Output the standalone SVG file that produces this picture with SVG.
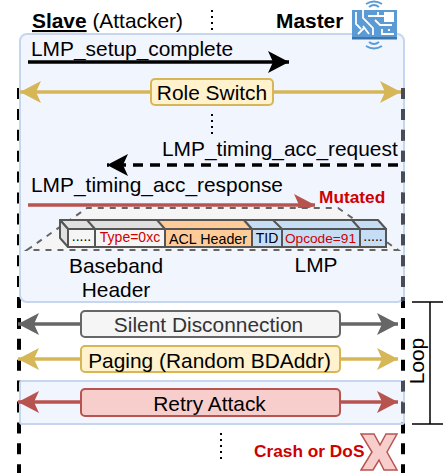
<svg xmlns="http://www.w3.org/2000/svg" width="443" height="473" viewBox="0 0 443 473">
<style>
text{font-family:"Liberation Sans",Arial,sans-serif;fill:#000}
.t18{font-size:20.900px}.mid{text-anchor:middle}
.panel{fill:#dae8fc;fill-opacity:.38;stroke:#c6d6ee;stroke-width:2}
.life{fill:none;stroke:#000;stroke-width:4;stroke-dasharray:11 9.900}
.lifeg{fill:none;stroke:#474c58;stroke-width:4;stroke-dasharray:11 9.900}
.dots{fill:none;stroke:#000;stroke-width:2;stroke-dasharray:2 4}
.arrow{fill:none;stroke-width:3.500}
.box{stroke-width:2}
.cell{stroke:#555;stroke-width:2}
.top{stroke:#555;stroke-width:2;stroke-linejoin:round}
.dash{fill:none;stroke:#666;stroke-width:2;stroke-dasharray:6 6}
.red{fill:#d00000}
.c{font-size:14px}
.rc{font-size:14px;fill:#d00000}
.w{fill:none;stroke:#fff;stroke-width:1.800}
.arc{fill:none;stroke:#5a9bd5;stroke-width:2}
</style>
<defs>
<marker id="hK" markerUnits="userSpaceOnUse" markerWidth="22" markerHeight="22" refX="21" refY="11" orient="auto-start-reverse"><path d="M0 0L21 11L0 22L5 11Z" fill="#000"/></marker>
<marker id="hG" markerUnits="userSpaceOnUse" markerWidth="22" markerHeight="22" refX="21" refY="11" orient="auto-start-reverse"><path d="M0 0L21 11L0 22L5 11Z" fill="#d6b656"/></marker>
<marker id="hR" markerUnits="userSpaceOnUse" markerWidth="22" markerHeight="22" refX="21" refY="11" orient="auto-start-reverse"><path d="M0 0L21 11L0 22L5 11Z" fill="#b85450"/></marker>
<marker id="hS" markerUnits="userSpaceOnUse" markerWidth="22" markerHeight="22" refX="21" refY="11" orient="auto-start-reverse"><path d="M0 0L21 11L0 22L5 11Z" fill="#666"/></marker>
</defs>

<g id="lifelines">
<path class="life" d="M19 88V473"/>
<path class="life" d="M403 88V473"/>
</g>
<g id="panels">
<rect class="panel" x="20" y="34" width="384" height="268" rx="7"/>
<rect class="panel" x="20" y="381" width="384" height="43" rx="2"/>
<path class="lifeg" d="M403 88V301"/>
<path fill="none" stroke="#474c58" stroke-width="4" d="M403 381V391.600M403 402.500V413.500"/>
</g>

<g id="slave"><text class="t18" x="32" y="28"><tspan font-weight="bold" text-decoration="underline">Slave</tspan> (Attacker)</text></g>
<g id="master">
<text class="t18" x="276" y="28" font-weight="bold">Master</text>
<g id="master-icon">
<rect x="352" y="10" width="45" height="29" fill="#5a9bd5"/>
<rect x="352" y="37" width="45" height="2.500" fill="#3c75ab"/>
<rect x="384" y="12" width="10" height="10" fill="#fff"/>
<path class="w" d="M356 12V24L361 29M363 10V18L373 28V35M368 16H384M378 16V12M375 20L380 25H392M358 34L364 28M369 34L363 26M382 29V34H394M389 29V31"/>
<path class="arc" d="M369 7Q374 3 379 7M366 4Q374 -1 382 4M369 42Q374 46 379 42M366 46Q374 51 382 46"/>
</g>
</g>

<g id="dots">
<path class="dots" d="M212 10V33"/>
<path class="dots" d="M212 114V138"/>
<path class="dots" d="M221 433V462"/>
</g>

<g id="connectors">
<path class="arrow" stroke="#000" d="M28 62H289" marker-end="url(#hK)"/>
<path class="arrow" stroke="#d6b656" d="M20 92H401" marker-start="url(#hG)" marker-end="url(#hG)"/>
<path class="arrow" stroke="#000" stroke-dasharray="10 7" d="M398 165H107" marker-end="url(#hK)"/>
<path class="arrow" stroke="#b85450" d="M28 205H315" marker-end="url(#hR)"/>
<path class="arrow" stroke="#666" d="M18 324H398" marker-start="url(#hS)" marker-end="url(#hS)"/>
<path class="arrow" stroke="#d6b656" d="M18 359H398" marker-start="url(#hG)" marker-end="url(#hG)"/>
<path class="arrow" stroke="#b85450" d="M18 402H398" marker-start="url(#hR)" marker-end="url(#hR)"/>
</g>

<g id="msg-setup"><text class="t18" x="31" y="56">LMP_setup_complete</text></g>
<g id="role-switch">
<rect class="box" x="151" y="79" width="122" height="26" rx="4" fill="#fff2cc" stroke="#d6b656"/>
<text class="t18 mid" x="212" y="100">Role Switch</text>
</g>
<g id="msg-request"><text class="t18" x="162" y="156">LMP_timing_acc_request</text></g>
<g id="msg-response"><text class="t18" x="31" y="191.500">LMP_timing_acc_response</text></g>
<g id="mutated"><text class="red" x="319" y="203" font-size="17.300" font-weight="bold">Mutated</text></g>

<g id="packet">
<path d="M27 250L87 208H338L398 250Z" fill="#f5f5f5"/>
<path class="dash" d="M27 250L87 208H338L398 250Z"/>
<path class="top" fill="#e0e0e0" d="M60 220H307L316 229H68Z"/>
<path class="top" fill="#e0e0e0" d="M60 220L68 229V247L60 238Z"/>
<path class="top" fill="#ffcc99" d="M157 220H244L252 229H165Z"/>
<path class="top" fill="#c6ddf6" d="M244 220H378L386 229H252Z"/>
<path class="top" fill="none" d="M87 220L95 229M273 220L282 229M352 220L360 229"/>
<rect class="cell" x="68" y="229" width="27" height="18" fill="#f5f5f5"/>
<rect class="cell" x="95" y="229" width="70" height="18" fill="#f5f5f5"/>
<rect class="cell" x="165" y="229" width="87" height="18" fill="#ffcc99"/>
<rect class="cell" x="252" y="229" width="30" height="18" fill="#c6ddf6"/>
<rect class="cell" x="282" y="229" width="78" height="18" fill="#c6ddf6"/>
<rect class="cell" x="360" y="229" width="26" height="18" fill="#c6ddf6"/>
<text class="c mid" x="81.500" y="241">.....</text>
<text class="rc mid" x="130" y="242">Type=0xc</text>
<text class="c mid" x="208" y="244" style="font-size:14.300px">ACL Header</text>
<text class="c mid" x="267" y="243">TID</text>
<text class="rc mid" x="320.500" y="243" style="font-size:13.700px">Opcode=91</text>
<text class="c mid" x="373" y="241">.....</text>
</g>
<g id="baseband"><text class="t18 mid" x="116" y="273">Baseband</text><text class="t18 mid" x="116" y="297">Header</text></g>
<g id="lmp"><text class="t18 mid" x="316" y="271.500">LMP</text></g>

<g id="silent">
<rect class="box" x="81" y="311" width="259" height="26" rx="4" fill="#f5f5f5" stroke="#666"/>
<text class="t18 mid" x="208.500" y="332" style="fill:#333">Silent Disconnection</text>
</g>
<g id="paging">
<rect class="box" x="81" y="346" width="259" height="26" rx="4" fill="#fff2cc" stroke="#d6b656"/>
<text class="t18 mid" x="209.500" y="367.500">Paging (Random BDAddr)</text>
</g>
<g id="retry">
<rect class="box" x="81" y="389" width="259" height="27" rx="4" fill="#f8cecc" stroke="#b85450"/>
<text class="t18 mid" x="209.500" y="411">Retry Attack</text>
</g>

<g id="loop">
<path fill="none" stroke="#000" stroke-width="1.500" d="M412 302H443M430 302V424M412 424H443"/>
<text class="t18 mid" transform="translate(424 361) rotate(-90)">Loop</text>
</g>

<g id="crash">
<text class="red" x="254" y="456.500" font-size="17.300" font-weight="bold">Crash or DoS</text>
<path d="M361 434H374L380 445L386 434H397L387 452L397 470H384L379 460L373 470H361L372 452Z" fill="#f8cecc" stroke="#b85450" stroke-width="1.500"/>
</g>
</svg>
